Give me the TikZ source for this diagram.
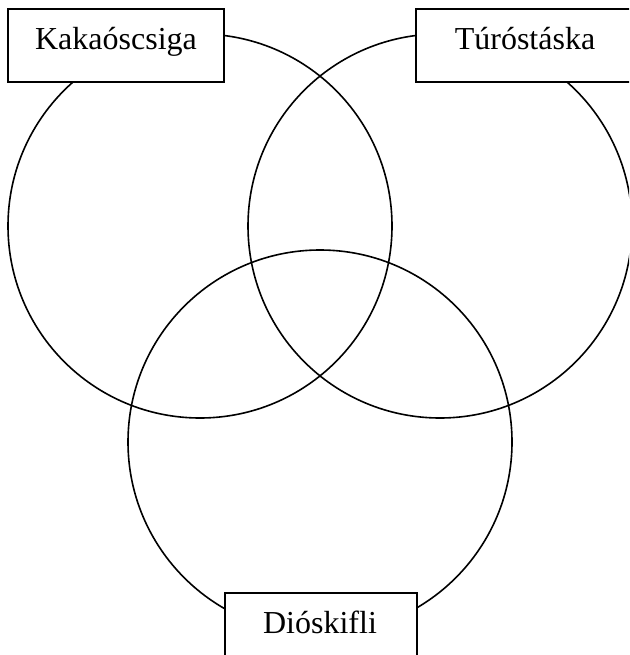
\documentclass[tikz,border=0pt]{standalone}
\usepackage{fontspec}
\setmainfont{Liberation Serif}
\begin{document}
\begin{tikzpicture}[x=1pt,y=-1pt,line width=1.6pt,
  ring/.style={draw=black},
  labelbox/.style={draw=black,fill=white},
  labeltext/.style={anchor=base,inner sep=0pt,font=\fontsize{32}{38}\selectfont}]
\useasboundingbox (0,0) rectangle (629,655);
\clip (0,0) rectangle (629,655);
\fill[white] (0,0) rectangle (629,655);
\draw[ring] (200,226) circle[radius=192];
\draw[ring] (440,226) circle[radius=192];
\draw[ring] (320,442) circle[radius=192];
\draw[labelbox] (8,9) rectangle (224,82);
\draw[labelbox] (416,9) rectangle (640,82);
\draw[labelbox] (225,593) rectangle (417,670);
\node[labeltext] (kakao) at (116,50) {Kakaóscsiga};
\node[labeltext] (turo) at (525,50) {Túróstáska};
\node[labeltext] (dio) at (320,633) {Dióskifli};
\end{tikzpicture}
\end{document}
